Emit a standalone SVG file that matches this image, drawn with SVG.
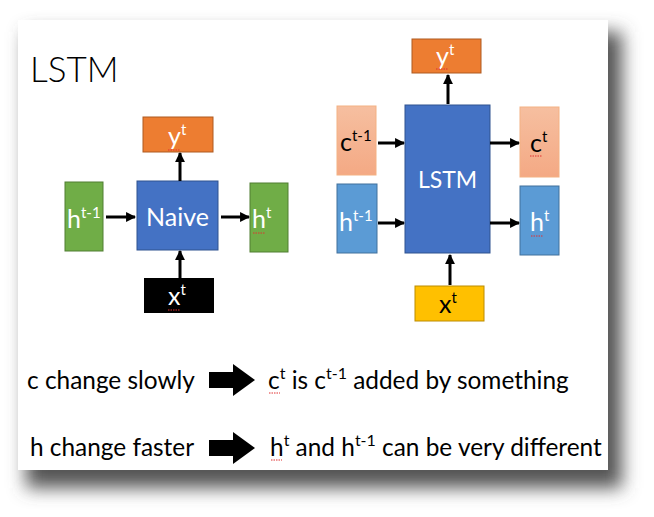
<svg xmlns="http://www.w3.org/2000/svg" width="654" height="517" viewBox="0 0 654 517">
<defs>
<filter id="shadow" x="-10%" y="-10%" width="130%" height="130%">
<feGaussianBlur stdDeviation="9"/>
</filter>
<marker id="ah" viewBox="0 0 10 10" refX="9" refY="5" markerWidth="3.3" markerHeight="3.3" orient="auto" markerUnits="strokeWidth">
<path d="M0,0 L10,5 L0,10 z" fill="#000"/>
</marker>
<linearGradient id="pink" x1="0" y1="0" x2="0" y2="1">
<stop offset="0" stop-color="#F6BFA0"/>
<stop offset="1" stop-color="#F4A984"/>
</linearGradient>
</defs>
<style>
text{font-family:Lato,"Open Sans","Liberation Sans",sans-serif}
.w{fill:#fff}
.k{fill:#000}
.box{font-size:25px}
.sup{font-size:15px}
.conn line{stroke:#000;stroke-width:3;marker-end:url(#ah)}
.sq{stroke:#e03030;stroke-width:1;stroke-dasharray:1.5 1;fill:none}
.body{font-size:24.4px;fill:#000}
.bsup{font-size:16px}
</style>
<rect width="654" height="517" fill="#fff"/>
<rect x="26" y="32" width="596" height="456" fill="#555" filter="url(#shadow)"/>
<rect x="18" y="20" width="590" height="450" fill="#fff"/>
<text x="30" y="82" font-size="35" font-weight="300" class="k">LSTM</text>

<g id="left-h-prev"><rect x="65" y="182" width="38" height="69" fill="#70AD47" stroke="#507E32"/><text x="67" y="228" class="box w">h<tspan class="sup" dy="-10">t-1</tspan></text></g>
<g id="naive"><rect x="137" y="181" width="81" height="69" fill="#4472C4" stroke="#2F528F"/><text x="177.5" y="226" text-anchor="middle" class="box w">Naive</text></g>
<g id="left-h"><rect x="250" y="183" width="38" height="69" fill="#70AD47" stroke="#507E32"/><text x="252" y="228" class="box w">h<tspan class="sup" dy="-10">t</tspan></text><path class="sq" d="M253,233 h12"/></g>
<g id="left-y"><rect x="143" y="117" width="70" height="35" fill="#ED7D31" stroke="#AE5A21"/><text x="168" y="145" class="box w">y<tspan class="sup" dy="-10">t</tspan></text><path class="sq" d="M168,150 h12"/></g>
<g id="left-x"><rect x="144" y="278" width="70" height="35" fill="#000"/><text x="168" y="305" class="box w">x<tspan class="sup" dy="-10">t</tspan></text><path class="sq" d="M168,310 h12"/></g>

<g id="right-y"><rect x="412" y="39" width="69" height="34" fill="#ED7D31" stroke="#AE5A21"/><text x="436" y="65" class="box w">y<tspan class="sup" dy="-10">t</tspan></text><path class="sq" d="M436,69 h12"/></g>
<g id="lstm"><rect x="405" y="105" width="85" height="148" fill="#4472C4" stroke="#2F528F"/><text x="447.5" y="188" text-anchor="middle" class="w" font-size="23">LSTM</text></g>
<g id="right-c-prev"><rect x="337" y="106" width="39" height="69" fill="url(#pink)" stroke="#F4B183"/><text x="340" y="151" class="box k">c<tspan class="sup" dy="-10">t-1</tspan></text></g>
<g id="right-h-prev"><rect x="337" y="184" width="40" height="69" fill="#5B9BD5" stroke="#41719C"/><text x="339" y="231" class="box w">h<tspan class="sup" dy="-10">t-1</tspan></text></g>
<g id="right-c"><rect x="520" y="107" width="39" height="70" fill="url(#pink)" stroke="#F4B183"/><text x="530" y="152" class="box k">c<tspan class="sup" dy="-10">t</tspan></text><path class="sq" d="M530,156 h12"/></g>
<g id="right-h"><rect x="520" y="186" width="39" height="69" fill="#5B9BD5" stroke="#41719C"/><text x="530" y="231" class="box w">h<tspan class="sup" dy="-10">t</tspan></text><path class="sq" d="M531,236 h12"/></g>
<g id="right-x"><rect x="415" y="286" width="69" height="35" fill="#FFC000" stroke="#BC8C00"/><text x="439" y="313" class="box k">x<tspan class="sup" dy="-10">t</tspan></text></g>

<g id="connectors" class="conn">
<line x1="106" y1="217" x2="135" y2="217"/>
<line x1="221" y1="217" x2="249" y2="217"/>
<line x1="180" y1="181" x2="180" y2="153"/>
<line x1="180" y1="278" x2="180" y2="251"/>
<line x1="378" y1="143" x2="404" y2="143"/>
<line x1="378" y1="223" x2="404" y2="223"/>
<line x1="490" y1="143" x2="519" y2="143"/>
<line x1="490" y1="223" x2="519" y2="223"/>
<line x1="448" y1="104" x2="448" y2="75"/>
<line x1="450" y1="285" x2="450" y2="255"/>
</g>

<g id="text-bottom">
<text x="27" y="389" class="body">c change slowly</text>
<path d="M209,372 h24 v-8 l22,16 l-22,16 v-8 h-24 z" fill="#000"/>
<text x="268" y="389" class="body">c<tspan class="bsup" dy="-10">t</tspan><tspan dy="10"> is c</tspan><tspan class="bsup" dy="-10">t-1</tspan><tspan dy="10"> added by something</tspan></text>
<path class="sq" d="M269,393 h11"/>
<text x="30" y="456" class="body">h change faster</text>
<path d="M209,440 h24 v-8 l22,16 l-22,16 v-8 h-24 z" fill="#000"/>
<text x="270" y="456" class="body">h<tspan class="bsup" dy="-10">t</tspan><tspan dy="10"> and h</tspan><tspan class="bsup" dy="-10">t-1</tspan><tspan dy="10"> can be very different</tspan></text>
<path class="sq" d="M271,460 h11"/>
</g>
</svg>
